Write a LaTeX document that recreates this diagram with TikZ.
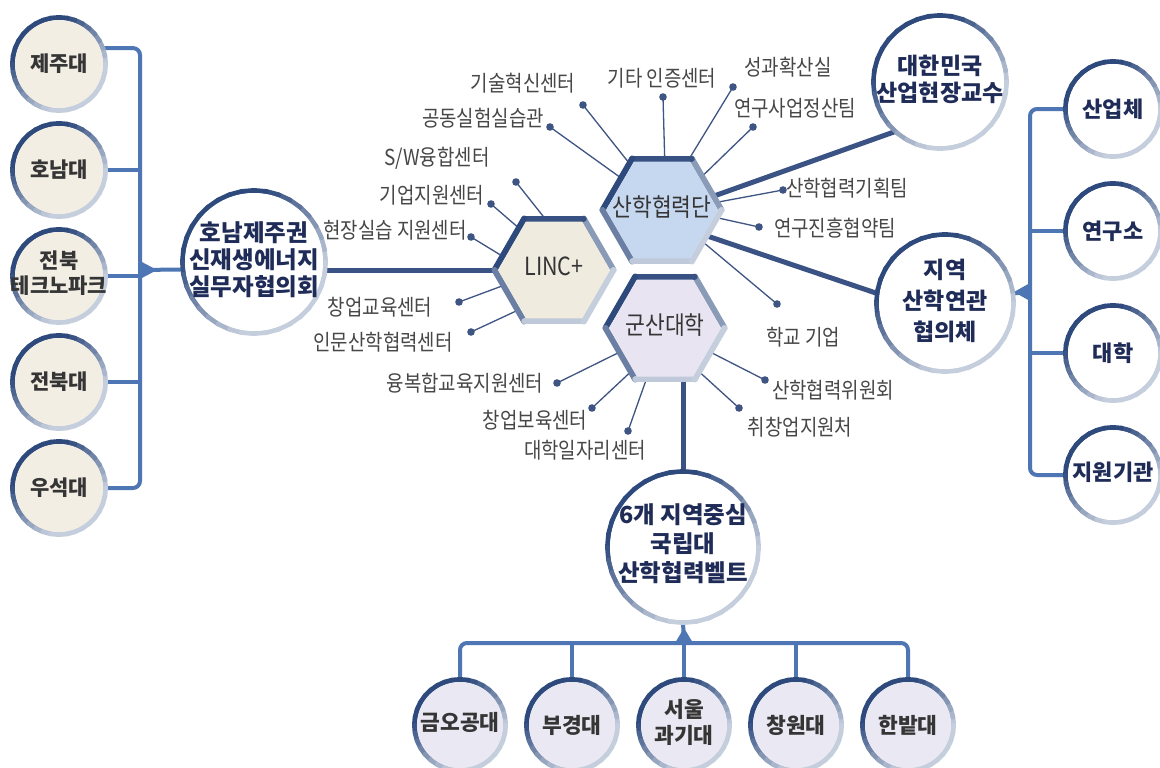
\documentclass[tikz,border=0pt]{standalone}
\usepackage{fontspec}
\setmainfont{Noto Sans CJK KR}[UprightFeatures={FakeStretch=0.86}]
\usepackage{tikz}
\usetikzlibrary{shapes.geometric}
\usetikzlibrary{positioning}

\definecolor{ringdark}{HTML}{2E4A7D}
\definecolor{ringlight}{HTML}{C5CEDD}
\definecolor{linknavy}{HTML}{3A5384}
\definecolor{barblue}{HTML}{4F76B4}
\definecolor{spokenavy}{HTML}{3E5482}
\definecolor{taggray}{HTML}{474747}
\definecolor{titlenavy}{HTML}{1F2C58}
\definecolor{inkgray}{HTML}{353535}
\definecolor{lincfill}{HTML}{EFEBDF}
\definecolor{sanhakfill}{HTML}{C6D8F0}
\definecolor{gunsanfill}{HTML}{E9E4F1}
\definecolor{leftfill}{HTML}{F2EEE4}
\definecolor{bottomfill}{HTML}{EAE9F3}

\pgfdeclarelayer{back}
\pgfsetlayers{back,main}

% centred lines that do not widen the shape
\newcommand{\mlines}[1]{\makebox[0pt]{\begin{tabular}{@{}c@{}}#1\end{tabular}}}

\begin{document}
\begin{tikzpicture}[x=1pt,y=-1pt,
  ring/.style={circle,minimum size=#1,inner sep=0pt,outer sep=2.5pt},
  hexa/.style={regular polygon,regular polygon sides=6,minimum size=112pt,inner sep=0pt,outer sep=3pt,text=inkgray,font=\fontsize{25}{27}\selectfont},
  tag/.style={inner sep=0pt,text=taggray,font=\fontsize{22}{24}\selectfont},
  spoke/.style={draw=spokenavy,line width=1.3pt},
  link/.style={draw=linknavy,line width=5pt},
  bar/.style={draw=barblue,line width=4pt,rounded corners=7pt},
  school/.style={ring=88pt,fill=leftfill,text=inkgray,font=\bfseries\fontsize{21}{25}\selectfont},
  partner/.style={ring=90pt,fill=white,text=titlenavy,font=\bfseries\fontsize{22}{26}\selectfont},
  beltuni/.style={ring=86pt,fill=bottomfill,text=inkgray,font=\bfseries\fontsize{21.5}{25}\selectfont},
  hub/.style={ring=#1,fill=white,text=titlenavy,font=\bfseries\fontsize{23.5}{24}\selectfont},
  node distance=106pt]
\useasboundingbox (0,0) rectangle (1160,768);

% left column
\node[school] (jeju) at (59,64) {제주대};
\node[school,below of=jeju] (honam) {호남대};
\node[school,below of=honam] (techno) {\mlines{전북\\테크노파크}};
\node[school,below of=techno] (jeonbuk) {전북대};
\node[school,below of=jeonbuk] (useok) {우석대};

% big circles
\node[hub=138pt] (council) at (254,262) {\mlines{호남제주권\\신재생에너지\\실무자협의회}};
\node[hub=128pt,font=\bfseries\fontsize{23}{25}\selectfont] (daehan) at (940,82) {\mlines{대한민국\\산업현장교수}};
\node[hub=132pt,font=\bfseries\fontsize{23}{31}\selectfont] (jiyeok) at (945,303) {\mlines{지역\\산학연관\\협의체}};
\node[hub=146pt,font=\bfseries\fontsize{23.5}{29}\selectfont] (belt) at (683,547) {\mlines{6개 지역중심\\국립대\\산학협력벨트}};

% hexagons
\node[hexa,fill=lincfill] (linc) at (554,270) {\mlines{LINC+}};
\node[hexa,fill=sanhakfill] (sanhak) at (662,210) {\mlines{산학협력단}};
\node[hexa,fill=gunsanfill] (gunsan) at (665,328) {\mlines{군산대학}};

% right column
\node[partner] (sanup) at (1113,109) {산업체};
\node[partner,below of=sanup,node distance=122pt] (yeonguso) {연구소};
\node[partner,below of=yeonguso,node distance=122pt] (daehak) {대학};
\node[partner,below of=daehak,node distance=122pt] (jiwon) {\mlines{지원기관}};

% bottom row
\node[beltuni] (geumo) at (460,725) {\mlines{금오공대}};
\node[beltuni,right of=geumo,node distance=112pt] (bugyeong) {부경대};
\node[beltuni,right of=bugyeong,node distance=112pt] (seoul) {\mlines{서울\\과기대}};
\node[beltuni,right of=seoul,node distance=112pt] (changwon) {창원대};
\node[beltuni,right of=changwon,node distance=112pt] (hanbat) {한밭대};

% labels round the hexagons
\node[tag] (tech) at (523,83) {기술혁신센터};
\node[tag] (lab) at (483,118) {공동실험실습관};
\node[tag] (cert) at (662,78) {기타 인증센터};
\node[tag] (spread) at (788,67) {성과확산실};
\node[tag] (settle) at (795,108) {연구사업정산팀};
\node[tag] (plan) at (847,188) {산학협력기획팀};
\node[tag] (promo) at (835,228) {연구진흥협약팀};
\node[tag] (firm) at (803,337) {학교 기업};
\node[tag] (sw) at (437,158) {S/W융합센터};
\node[tag] (biz) at (432,195) {기업지원센터};
\node[tag] (field) at (395,230) {현장실습 지원센터};
\node[tag] (startup) at (380,307) {창업교육센터};
\node[tag] (human) at (383,342) {인문산학협력센터};
\node[tag] (conv) at (465,383) {융복합교육지원센터};
\node[tag] (incub) at (535,420) {창업보육센터};
\node[tag] (jobs) at (585,450) {대학일자리센터};
\node[tag] (comm) at (833,390) {산학협력위원회};
\node[tag] (career) at (800,427) {취창업지원처};

% dots
\coordinate (dtech) at (583,105);
\coordinate (dlab) at (550,127);
\coordinate (dcert) at (663,97);
\coordinate (dspread) at (733,87);
\coordinate (dsettle) at (753,127);
\coordinate (dplan) at (783,190);
\coordinate (dpromo) at (759,227);
\coordinate (dfirm) at (777,304);
\coordinate (dsw) at (516,182);
\coordinate (dbiz) at (491,204);
\coordinate (dfield) at (471,237);
\coordinate (dstartup) at (459,302);
\coordinate (dhuman) at (471,332);
\coordinate (dconv) at (557,383);
\coordinate (dincub) at (592,408);
\coordinate (djobs) at (628,431);
\coordinate (dcomm) at (765,380);
\coordinate (dcareer) at (739,408);

% bracket joints
\coordinate (lbar) at (140,270);
\coordinate (rbar) at (1030,292);
\coordinate (bbar) at (684,643);

\begin{pgfonlayer}{back}
\fill[white] (0,0) rectangle (1160,768);
\foreach \h/\a/\d in {sanhak/125/dtech,sanhak/142/dlab,sanhak/87/dcert,sanhak/62/dspread,
  sanhak/40/dsettle,sanhak/8/dplan,sanhak/-8/dpromo,sanhak/-38/dfirm,
  linc/100/dsw,linc/130/dbiz,linc/165/dfield,linc/197/dstartup,linc/228/dhuman,
  gunsan/208/dconv,gunsan/232/dincub,gunsan/250/djobs,gunsan/-28/dcomm,gunsan/-52/dcareer}{
  \draw[spoke] (\h.\a) -- (\d);
  \fill[spokenavy] (\d) circle (3.8pt);
}
\draw[link] (linc.180) -- (linc.180 -| council.east);
\draw[link] (sanhak.15) -- (daehan.228);
\draw[link] (sanhak.-30) -- (jiyeok.172);
\draw[link] (belt.north) -- (belt.north |- gunsan.south);

\draw[bar] (jeju.20) -- (jeju.20 -| lbar) -- (useok.east -| lbar) -- (useok.east);
\foreach \n in {honam,techno,jeonbuk} \draw[bar] (\n.east) -- (\n.east -| lbar);
\draw[bar] (lbar) -- (council.186);
\fill[barblue] ([yshift=9pt]lbar) -- ([xshift=17pt]lbar) -- ([yshift=-9pt]lbar) -- cycle;

\draw[bar] (sanup.west) -- (sanup.west -| rbar) -- (jiwon.west -| rbar) -- (jiwon.west);
\foreach \n in {yeonguso,daehak} \draw[bar] (\n.west) -- (\n.west -| rbar);
\draw[bar] (rbar) -- (jiyeok.8);
\fill[barblue] ([yshift=9pt]rbar) -- ([xshift=-16pt]rbar) -- ([yshift=-9pt]rbar) -- cycle;

\draw[bar] (geumo.north) -- (geumo.north |- bbar) -- (hanbat.north |- bbar) -- (hanbat.north);
\foreach \n in {bugyeong,seoul,changwon} \draw[bar] (\n.north) -- (\n.north |- bbar);
\draw[bar] (bbar) -- (belt.south);
\fill[barblue] ([xshift=-9pt]bbar) -- ([yshift=15pt]bbar) -- ([xshift=9pt]bbar) -- cycle;

% shaded rims
\foreach \n in {jeju,honam,techno,jeonbuk,useok,council,daehan,jiyeok,belt,
  sanup,yeonguso,daehak,jiwon,geumo,bugyeong,seoul,changwon,hanbat}{
  \foreach \a in {0,10,...,350}{
    \pgfmathtruncatemacro\b{\a+10}
    \pgfmathtruncatemacro\p{max(0,min(100,50+75*cos(\a+5-130)))}
    \draw[line width=5pt,line cap=round,ringdark!\p!ringlight] (\n.\a) -- (\n.\b);
  }
}
\foreach \n in {linc,sanhak,gunsan}{
  \foreach \a in {0,60,...,300}{
    \pgfmathtruncatemacro\b{\a+60}
    \pgfmathtruncatemacro\p{max(0,min(100,50+60*cos(\a+30-130)))}
    \draw[line width=6pt,line cap=round,ringdark!\p!ringlight] (\n.\a) -- (\n.\b);
  }
}
\end{pgfonlayer}
\end{tikzpicture}
\end{document}
